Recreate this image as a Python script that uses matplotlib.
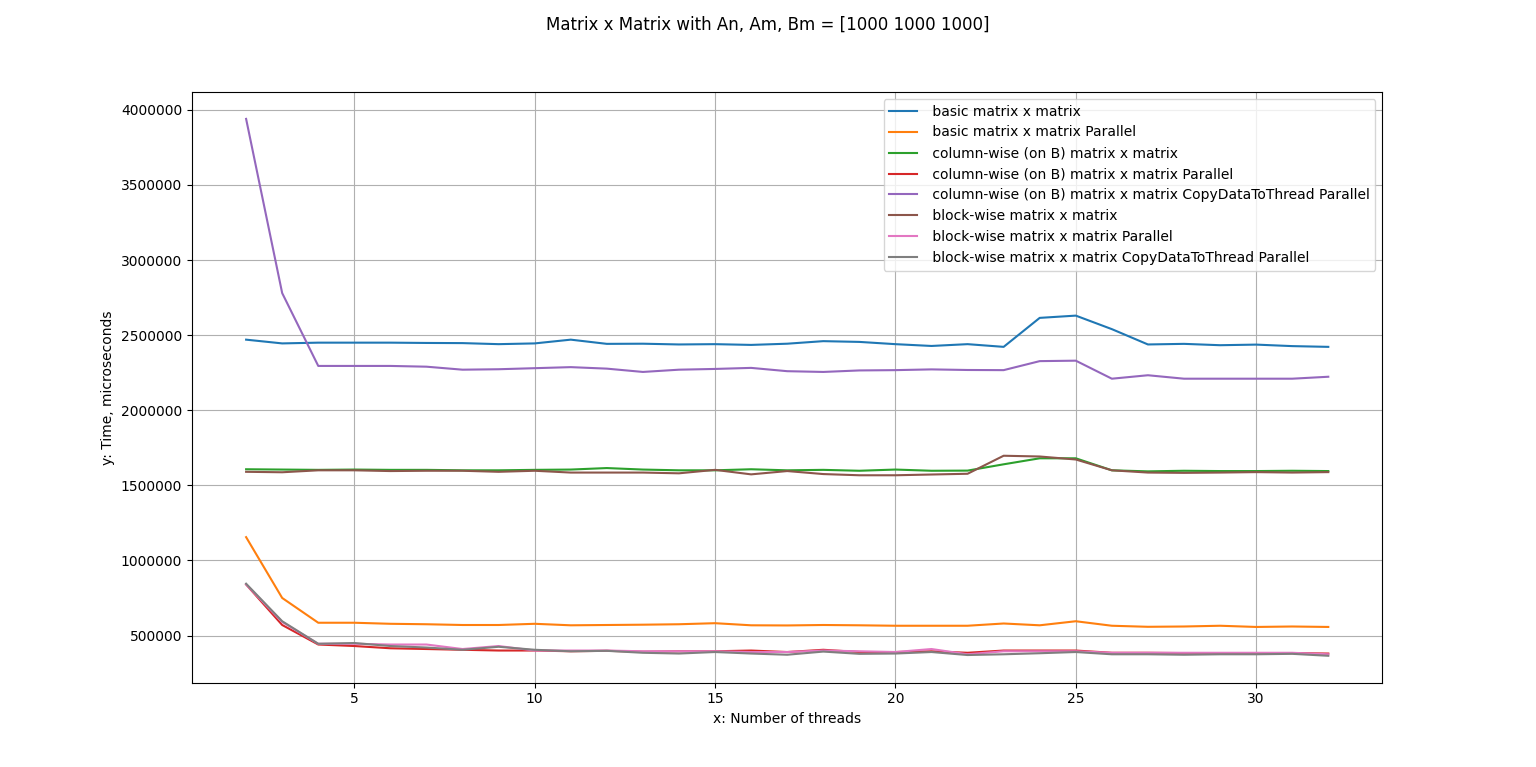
import matplotlib
matplotlib.use("Agg")
import matplotlib.pyplot as plt

threads = list(range(2, 33))

basic = [2470, 2445, 2445, 2450, 2450, 2450, 2448, 2447, 2440, 2445, 2470, 2442, 2443, 2438, 2440, 2435,
         2443, 2460, 2455, 2440, 2428, 2440, 2422, 2615, 2630, 2540, 2438, 2442, 2433, 2437, 2427, 2422]
basic = basic[:1] + basic[2:]
basic_par = [1155, 750, 585, 585, 578, 575, 570, 570, 578, 568, 570, 572, 575, 582, 568, 567,
             570, 568, 565, 565, 565, 580, 568, 595, 565, 558, 560, 565, 557, 560, 557]
col = [1607, 1605, 1603, 1605, 1603, 1603, 1600, 1600, 1603, 1605, 1615, 1605, 1600, 1600, 1607, 1600,
       1603, 1597, 1605, 1597, 1598, 1640, 1680, 1680, 1600, 1593, 1597, 1595, 1595, 1597, 1595]
col_par = [840, 570, 440, 430, 415, 410, 405, 400, 400, 395, 398, 392, 395, 395, 400, 390,
           405, 390, 390, 395, 385, 400, 400, 400, 385, 385, 383, 383, 383, 383, 380]
col_copy = [3940, 2780, 2295, 2295, 2295, 2290, 2270, 2273, 2280, 2287, 2277, 2255, 2270, 2275, 2282, 2260,
            2255, 2265, 2267, 2272, 2268, 2267, 2327, 2330, 2210, 2233, 2210, 2210, 2210, 2210, 2223]
block = [1590, 1587, 1600, 1600, 1595, 1597, 1597, 1590, 1597, 1585, 1585, 1585, 1580, 1603, 1573, 1595,
         1575, 1567, 1567, 1572, 1577, 1697, 1692, 1672, 1600, 1585, 1583, 1585, 1588, 1585, 1588]
block_par = [840, 590, 445, 445, 440, 440, 410, 430, 400, 400, 400, 395, 395, 395, 390, 390,
             400, 395, 390, 410, 375, 395, 395, 395, 385, 385, 385, 385, 385, 385, 375]
block_copy = [845, 595, 445, 450, 430, 420, 405, 425, 405, 395, 398, 385, 380, 390, 380, 372,
              393, 378, 380, 390, 370, 375, 382, 390, 375, 375, 372, 375, 375, 378, 365]

series = [
    (" basic matrix x matrix", basic),
    (" basic matrix x matrix Parallel", basic_par),
    (" column-wise (on B) matrix x matrix", col),
    (" column-wise (on B) matrix x matrix Parallel", col_par),
    (" column-wise (on B) matrix x matrix CopyDataToThread Parallel", col_copy),
    (" block-wise matrix x matrix", block),
    (" block-wise matrix x matrix Parallel", block_par),
    (" block-wise matrix x matrix CopyDataToThread Parallel", block_copy),
]

fig, ax = plt.subplots(figsize=(15.36, 7.67), dpi=100)
for label, vals in series:
    ax.plot(threads, [v * 1000 for v in vals], label=label)

ax.ticklabel_format(axis="y", style="plain", useOffset=False)
ax.set_xlabel("x: Number of threads")
ax.set_ylabel("y: Time, microseconds")
ax.grid(True)
ax.legend(loc="upper right")
fig.suptitle("Matrix x Matrix with An, Am, Bm = [1000 1000 1000]")
fig.savefig("out.png", dpi=100)
